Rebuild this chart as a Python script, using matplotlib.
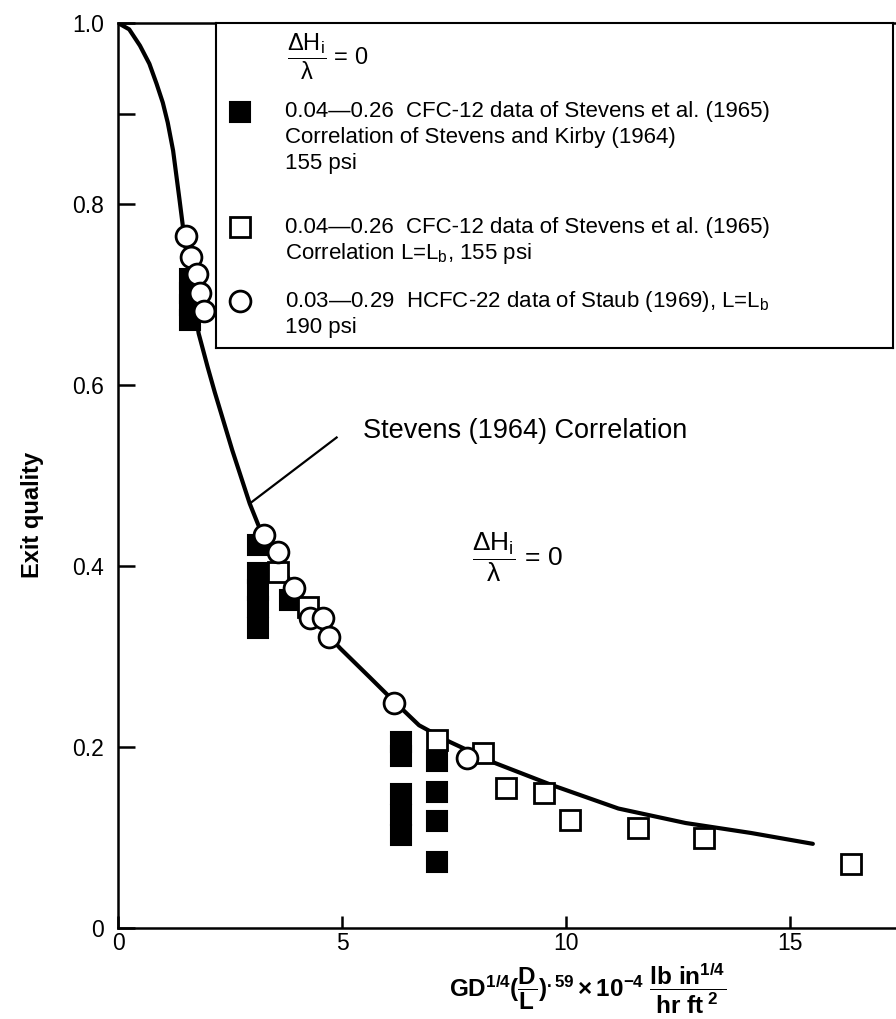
import matplotlib
matplotlib.use("Agg")
import matplotlib.pyplot as plt
from matplotlib import font_manager as fm

# ---------------- data ----------------
curve_x = [0.0, 0.25, 0.49, 0.70, 0.86, 1.00, 1.11, 1.23, 1.37, 1.49, 1.65, 1.80,
           2.00, 2.16, 2.55, 2.94, 3.24, 3.64, 4.08, 4.52, 4.96, 5.62, 6.13,
           6.72, 7.39, 8.43, 9.68, 11.17, 12.67, 14.13, 15.51]
curve_y = [1.0, 0.993, 0.975, 0.955, 0.933, 0.912, 0.890, 0.859, 0.806, 0.759,
           0.704, 0.657, 0.620, 0.592, 0.528, 0.469, 0.432, 0.400, 0.364, 0.333,
           0.309, 0.277, 0.252, 0.224, 0.206, 0.182, 0.158, 0.132, 0.116, 0.105,
           0.093]

# CFC-12 Stevens et al. (1965), correlation of Stevens and Kirby (filled squares)
filled_x = [1.61, 1.61, 1.61, 1.61,
            3.13, 3.13, 3.13, 3.13, 3.13, 3.84,
            6.32, 6.32, 6.32, 6.32, 6.32,
            7.13, 7.13, 7.13, 7.13]
filled_y = [0.717, 0.702, 0.688, 0.672,
            0.423, 0.392, 0.373, 0.355, 0.332, 0.362,
            0.206, 0.190, 0.148, 0.125, 0.103,
            0.185, 0.150, 0.118, 0.073]

# CFC-12 Stevens et al. (1965), correlation L=Lb (open squares)
open_x = [3.58, 4.25, 7.13, 8.14, 8.67, 9.52, 10.10, 11.60, 13.07, 16.37]
open_y = [0.393, 0.355, 0.2075, 0.193, 0.1545, 0.149, 0.119, 0.110, 0.0993, 0.0706]

# HCFC-22 Staub (1969) (open circles)
circ_x = [1.52, 1.62, 1.77, 1.82, 1.93, 3.25, 3.58, 3.92, 4.28, 4.57, 4.70, 6.16, 7.78]
circ_y = [0.765, 0.741, 0.723, 0.702, 0.682, 0.434, 0.416, 0.376, 0.342, 0.342,
          0.321, 0.249, 0.188]

x_ticks = [0, 5, 10, 15]
x_tick_labels = ["0", "5", "10", "15"]
y_ticks = [0, 0.2, 0.4, 0.6, 0.8, 1.0]
y_tick_labels = ["0", "0.2", "0.4", "0.6", "0.8", "1.0"]
y_minor = [0.9]

legend_entries = [
    ["0.04\u20140.26  CFC-12 data of Stevens et al. (1965)",
     "Correlation of Stevens and Kirby (1964)",
     "155 psi"],
    ["0.04\u20140.26  CFC-12 data of Stevens et al. (1965)",
     "Correlation L=L$_\\mathregular{b}$, 155 psi"],
    ["0.03\u20140.29  HCFC-22 data of Staub (1969), L=L$_\\mathregular{b}$",
     "190 psi"],
]

# ---------------- fonts ----------------
names = {f.name for f in fm.fontManager.ttflist}
NARROW = "Liberation Sans Narrow" if "Liberation Sans Narrow" in names else "Liberation Sans"
plt.rcParams["font.family"] = [NARROW, "DejaVu Sans"]
plt.rcParams["mathtext.fontset"] = "custom"
plt.rcParams["mathtext.rm"] = NARROW
plt.rcParams["mathtext.it"] = NARROW
plt.rcParams["mathtext.bf"] = NARROW + ":bold"
plt.rcParams["mathtext.default"] = "regular"

W, H = 896, 1019
fig = plt.figure(figsize=(W / 100, H / 100), dpi=100)

L_px, R_px, T_px, B_px = 118, 896, 23, 928
ax = fig.add_axes([L_px / W, 1 - B_px / H, (R_px - L_px) / W, (B_px - T_px) / H])
ax.set_xlim(0, (R_px - L_px) / 44.8)
ax.set_ylim(0, 1.0)

for s in ["left", "bottom", "top"]:
    ax.spines[s].set_linewidth(1.8)
ax.spines["right"].set_visible(False)

ax.set_xticks(x_ticks)
ax.set_xticklabels(x_tick_labels)
ax.set_yticks(y_ticks)
ax.set_yticklabels(y_tick_labels)
ax.set_yticks(y_minor, minor=True)
ax.tick_params(axis="both", which="both", direction="in", width=1.8, labelsize=16.5)
ax.tick_params(axis="y", which="both", length=12, pad=10)
ax.tick_params(axis="x", which="major", length=9, pad=3)
ax.tick_params(top=False, right=False)

# curve
ax.plot(curve_x, curve_y, color="black", lw=3.0, zorder=3,
        solid_capstyle="round", solid_joinstyle="round")

# data
ax.plot(filled_x, filled_y, ls="none", marker="s", ms=14.5, mfc="black", mec="black",
        mew=1.5, zorder=2)
ax.plot(open_x, open_y, ls="none", marker="s", ms=14.5, mfc="white", mec="black",
        mew=2.0, zorder=4)
ax.plot(circ_x, circ_y, ls="none", marker="o", ms=15, mfc="white", mec="black",
        mew=2.0, zorder=5)

# annotation
ax.plot([2.94, 4.88], [0.469, 0.542], color="black", lw=1.6, zorder=3)
ax.text(5.47, 0.549, "Stevens (1964) Correlation", fontsize=19.5, va="center", ha="left")
ax.text(7.9, 0.41, r"$\dfrac{\Delta H_{\mathregular{i}}}{\lambda}$ = 0", fontsize=19,
        va="center", ha="left")

# axis labels
fig.text(33 / W, 1 - 515 / H, "Exit quality", rotation=90, fontsize=17,
         fontweight="bold", ha="center", va="center")
fig.text(588 / W, 1 - 989 / H,
         r"$\mathbf{GD^{1/4}(\dfrac{D}{L})^{.59}\times 10^{-4}\ \dfrac{lb\ in^{1/4}}{hr\ ft^{\ 2}}}$",
         fontsize=17.5, ha="center", va="center")

# legend box in pixel coordinates
lx0, lx1, ly0, ly1 = 216, 893, 23, 348
lax = fig.add_axes([lx0 / W, 1 - ly1 / H, (lx1 - lx0) / W, (ly1 - ly0) / H])
lax.set_xlim(lx0, lx1)
lax.set_ylim(ly1, ly0)
lax.set_xticks([])
lax.set_yticks([])
for s in lax.spines.values():
    s.set_linewidth(1.5)
lax.patch.set_facecolor("white")

lax.text(287, 57, r"$\dfrac{\Delta H_{\mathregular{i}}}{\lambda}$ = 0", fontsize=17,
         va="center", ha="left")
marker_styles = [dict(marker="s", mfc="black", mec="black", mew=1.5),
                 dict(marker="s", mfc="white", mec="black", mew=2.0),
                 dict(marker="o", mfc="white", mec="black", mew=2.0)]
entry_y = [112, 227, 301]
line_gap = 26
for ms_, y0, lines in zip(marker_styles, entry_y, legend_entries):
    lax.plot([240], [y0], ls="none", ms=15, **ms_)
    for k, t in enumerate(lines):
        lax.text(285, y0 + k * line_gap, t, fontsize=16, va="center", ha="left")

fig.savefig("out.png", dpi=100)
